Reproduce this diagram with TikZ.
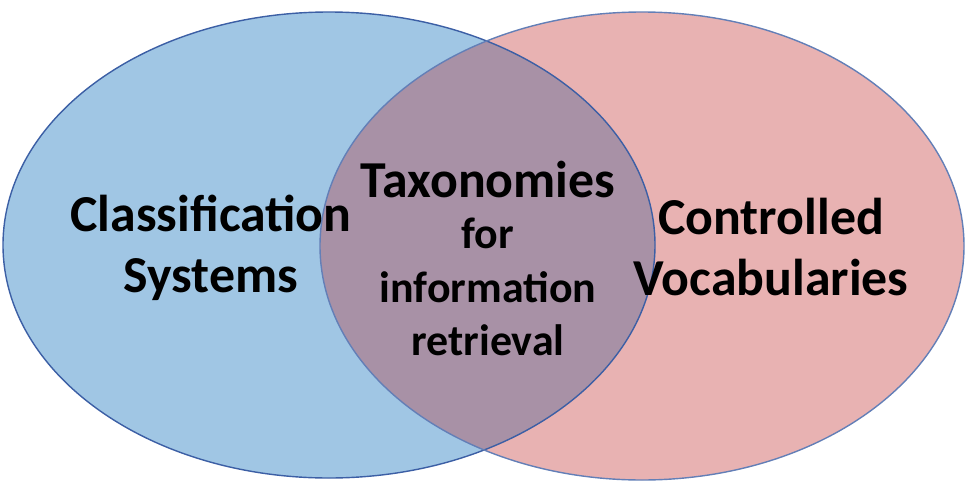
\documentclass[tikz,border=0pt]{standalone}
\usepackage{fontspec}
\setmainfont{Carlito}
\definecolor{clsblue}{RGB}{160,198,228}
\definecolor{vocpink}{RGB}{232,178,178}
\definecolor{taxmix}{RGB}{168,145,166}
\definecolor{rimblue}{RGB}{60,95,165}
\begin{document}
\begin{tikzpicture}[x=0.02cm,y=-0.02cm,
    big/.style={font=\bfseries\fontsize{29.5}{35}\selectfont, align=center},
    small/.style={font=\bfseries\fontsize{25}{30}\selectfont},
    ]
    \useasboundingbox (0,0) rectangle (967,487);
    % Sets
    \fill [clsblue] (329,245) ellipse [x radius=326, y radius=233];
    \fill [vocpink] (642,246) ellipse [x radius=322, y radius=234];
    \begin{scope}
      \clip (329,245) ellipse [x radius=326, y radius=233];
      \fill [taxmix] (642,246) ellipse [x radius=322, y radius=234];
    \end{scope}
    \draw [rimblue, line width=0.8pt] (329,245) ellipse [x radius=326, y radius=233];
    \draw [rimblue!80, line width=0.8pt] (642,246) ellipse [x radius=322, y radius=234];

    % Labels
    \node [big] (cls) at (211,248) {Classification\\Systems};
    \node [big] (voc) at (771,247) {Controlled\\Vocabularies};
    \node [big] (tax) at (488,180) {Taxonomies};
    \node [small] (for) at (488,233) {for};
    \node [small] (inf) at (488,287) {information};
    \node [small] (ret) at (488,340) {retrieval};
\end{tikzpicture}
\end{document}
